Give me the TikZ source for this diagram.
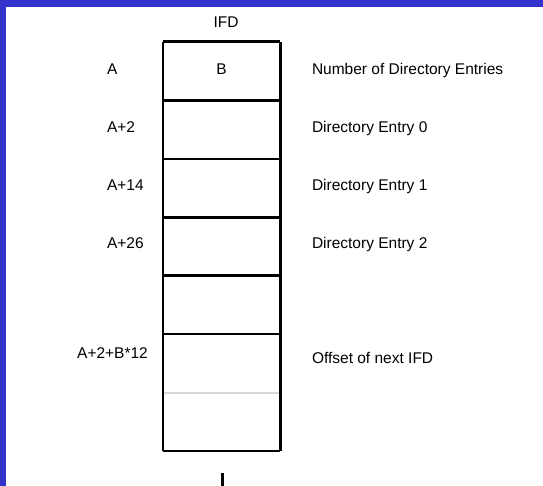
\documentclass[tikz,border=0pt]{standalone}
\usepackage{fontspec}
\setmainfont{Liberation Sans}
\definecolor{frameblue}{RGB}{51,51,204}
\definecolor{lightdiv}{RGB}{215,215,215}
\tikzset{
  cellbox/.style={rectangle, minimum width=117pt, minimum height=58.43pt, inner sep=0pt, outer sep=0pt},
  lbl/.style={inner sep=0pt, outer sep=0pt, font=\fontsize{15.5}{18}\selectfont},
  divline/.style={line width=2.6pt},
  edgeline/.style={line width=2pt},
  heavyline/.style={line width=3pt},
  greyline/.style={line width=2pt, draw=lightdiv}
}
\begin{document}
\begin{tikzpicture}[x=1pt,y=-1pt]
\useasboundingbox (0,0) rectangle (543,486);
\fill[white] (0,0) rectangle (543,486);
\fill[frameblue] (0,0) rectangle (543,7);
\fill[frameblue] (0,0) rectangle (6,486);

% cells
\foreach \i in {0,...,6} {
  \node[cellbox] (c\i) at (221.5,{42+58.43*(\i+0.5)}) {};
}
% outer edges
\draw[edgeline] (c0.north west) -- (c6.south west);
\draw[edgeline] (c6.south west) -- (c6.south east);
\draw[heavyline] (c0.north west) -- (c0.north east);
\draw[heavyline] (c0.north east) -- (c6.south east);
% dividers
\foreach \i in {0,...,4} {
  \draw[divline] (c\i.south west) -- (c\i.south east);
}
\draw[greyline] ([xshift=1pt]c5.south west) -- ([xshift=-1.5pt]c5.south east);

% texts
\node[lbl, anchor=base] (ifd) at (226,28) {IFD};
\node[lbl, anchor=base] (b) at (221.5,75) {B};
\node[lbl, anchor=base west] (la) at (107,75) {A};
\node[lbl, anchor=base west] (la2) at (107,133) {A+2};
\node[lbl, anchor=base west] (la14) at (107,191) {A+14};
\node[lbl, anchor=base west] (la26) at (107,248) {A+26};
\node[lbl, anchor=base] (lab) at (112.5,358) {A+2+B*12};
\node[lbl, anchor=base west] (r0) at (312,75) {Number of Directory Entries};
\node[lbl, anchor=base west] (r1) at (312,133) {Directory Entry 0};
\node[lbl, anchor=base west] (r2) at (312,191) {Directory Entry 1};
\node[lbl, anchor=base west] (r3) at (312,248) {Directory Entry 2};
\node[lbl, anchor=base west] (r5) at (312,363) {Offset of next IFD};

% tick below
\coordinate (t1) at (222,473);
\coordinate (t2) at (222,487);
\draw[heavyline] (t1) -- (t2);
\end{tikzpicture}
\end{document}
